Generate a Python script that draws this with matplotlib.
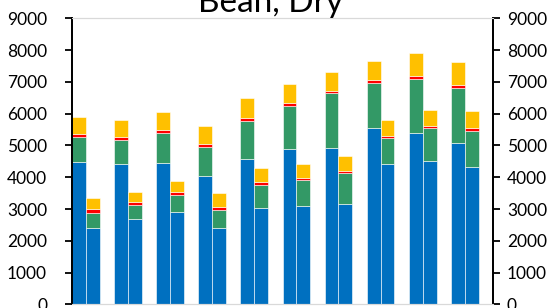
import numpy as np
import matplotlib.pyplot as plt

plt.rcParams['font.family'] = ['Lato', 'DejaVu Sans']

# left bar of each pair
a_blue = [4485, 4412, 4453, 4035, 4570, 4894, 4906, 5535, 5378, 5073]
a_green = [786, 755, 925, 912, 1204, 1352, 1739, 1434, 1708, 1720]
a_red = [94, 104, 104, 85, 76, 75, 73, 76, 85, 95]
a_yellow = [535, 525, 575, 585, 629, 607, 578, 616, 723, 723]

# right bar of each pair
b_blue = [2409, 2673, 2912, 2409, 3019, 3101, 3164, 4403, 4507, 4318]
b_green = [472, 450, 535, 557, 733, 808, 965, 827, 1038, 1132]
b_red = [107, 94, 85, 85, 85, 73, 73, 63, 72, 85]
b_yellow = [346, 324, 355, 449, 459, 421, 462, 503, 494, 535]

colors = ['#0070C0', '#339966', '#FF0000', '#FFC000']

fig = plt.figure(figsize=(5.47, 3.08), dpi=100)
ax = fig.add_axes([72 / 547, 1 - 304.4 / 308, (493 - 72) / 547, (304.4 - 18.3) / 308])

x = np.arange(len(a_blue))
w = 0.33

def stack(xpos, parts):
    bottom = np.zeros(len(xpos))
    for vals, c in zip(parts, colors):
        ax.bar(xpos, vals, w, bottom=bottom, color=c, align='edge',
               edgecolor='white', linewidth=0.4)
        bottom += np.array(vals)

stack(x, [a_blue, a_green, a_red, a_yellow])
stack(x + w, [b_blue, b_green, b_red, b_yellow])

ticks = np.arange(0, 9001, 1000)
ax.set_xlim(0, 10)
ax.set_ylim(0, 9000)
ax.set_yticks(ticks)
ax.set_xticks([])
ax.tick_params(axis='y', direction='out', length=5, width=1.3, pad=13,
               labelsize=12.5, right=False)

ax2 = ax.twinx()
ax2.set_ylim(0, 9000)
ax2.set_yticks(ticks)
ax2.tick_params(axis='y', direction='out', length=5, width=1.3, pad=5,
                labelsize=12.5)

for a in (ax, ax2):
    a.spines['left'].set_linewidth(1.3)
    a.spines['right'].set_linewidth(1.3)
    a.spines['top'].set_color('#D9D9D9')
    a.spines['bottom'].set_color('#D9D9D9')

fig.text(271 / 547, 1 - 12 / 308, 'Bean, Dry', ha='center', va='baseline', fontsize=24)

fig.savefig('out.png', dpi=100)
